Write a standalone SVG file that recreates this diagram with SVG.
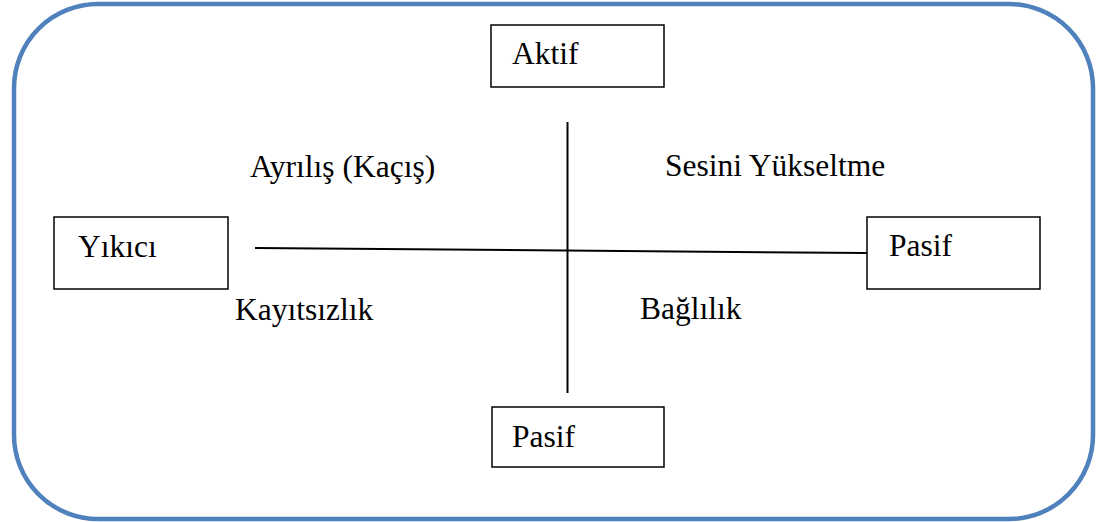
<svg xmlns="http://www.w3.org/2000/svg" width="1097" height="522" viewBox="0 0 1097 522">
<style>
.frame{fill:#fff;stroke:#4F81BD;stroke-width:4.5}
.box{fill:#fff;stroke:#000;stroke-width:1.5}
.t{font-family:'Liberation Serif',Tinos,'Times New Roman',Times,'DejaVu Serif',serif;font-size:31.5px;fill:#000}
.ln{stroke:#000;stroke-width:2;fill:none}
</style>
<rect x="0" y="0" width="1097" height="522" fill="#fff"/>
<rect class="frame" x="14" y="4" width="1079" height="515" rx="84" ry="84"/>
<g id="connectors">
<line class="ln" x1="255" y1="248" x2="867" y2="253"/>
<line class="ln" x1="567.5" y1="122" x2="567.5" y2="393"/>
</g>
<g id="aktif"><rect class="box" x="491" y="25" width="173" height="62"/><text class="t" x="512" y="64">Aktif</text></g>
<g id="yikici"><rect class="box" x="54" y="217" width="174" height="72"/><text class="t" x="78" y="257">Yıkıcı</text></g>
<g id="pasif-right"><rect class="box" x="867" y="217" width="173" height="72"/><text class="t" x="889" y="256">Pasif</text></g>
<g id="pasif-bottom"><rect class="box" x="492" y="407" width="172" height="60"/><text class="t" x="512" y="447">Pasif</text></g>
<g id="labels">
<text class="t" x="250" y="177">Ayrılış (Kaçış)</text>
<text class="t" x="665" y="176">Sesini Yükseltme</text>
<text class="t" x="235" y="320">Kayıtsızlık</text>
<text class="t" x="640" y="319">Bağlılık</text>
</g>
</svg>
